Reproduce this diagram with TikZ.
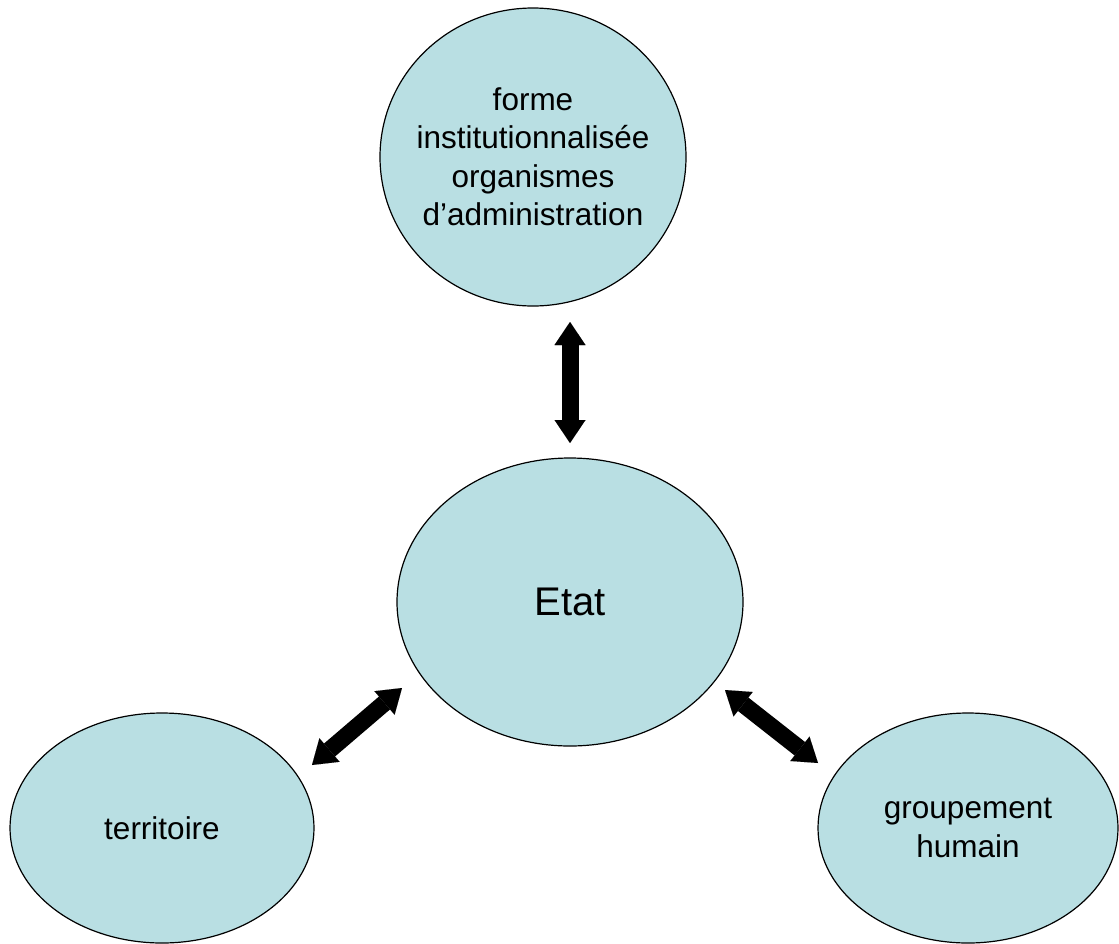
\documentclass[tikz,border=0pt]{standalone}
\usepackage{fontspec}
\setmainfont{Liberation Sans}
\usetikzlibrary{shapes.geometric,arrows.meta}
\definecolor{bubble}{RGB}{185,223,227}
\tikzset{
  bubble/.style={ellipse, draw=black, line width=1.2pt, fill=bubble, inner sep=0pt, align=center, font=\fontsize{31.5}{38.5}\selectfont},
  dblarrow/.style={line width=17pt, {Triangle[width=31pt,length=23pt,line width=0.01pt]}-{Triangle[width=31pt,length=23pt,line width=0.01pt]}}
}
\begin{document}
\begin{tikzpicture}[x=1pt,y=-1pt]
\useasboundingbox (0,0) rectangle (1119,943);
\node[bubble, inner sep=-16pt, minimum width=306pt, minimum height=298pt] (forme) at (533,157)
  {forme\\institutionnalisée\\organismes\\d’administration};
\node[bubble, minimum width=346pt, minimum height=288pt, font=\fontsize{40}{48}\selectfont] (etat) at (570,602) {Etat};
\node[bubble, minimum width=304pt, minimum height=230pt] (terr) at (162,828) {territoire};
\node[bubble, inner sep=-10pt, minimum width=300pt, minimum height=230pt] (grp) at (968,828) {groupement\\humain};
\coordinate (v1) at (570,322);
\coordinate (v2) at (570,443);
\coordinate (l1) at (402,688);
\coordinate (l2) at (312,765);
\coordinate (r1) at (725,690);
\coordinate (r2) at (818,763);
\draw[dblarrow] (v1) -- (v2);
\draw[dblarrow] (l1) -- (l2);
\draw[dblarrow] (r1) -- (r2);
\end{tikzpicture}
\end{document}
